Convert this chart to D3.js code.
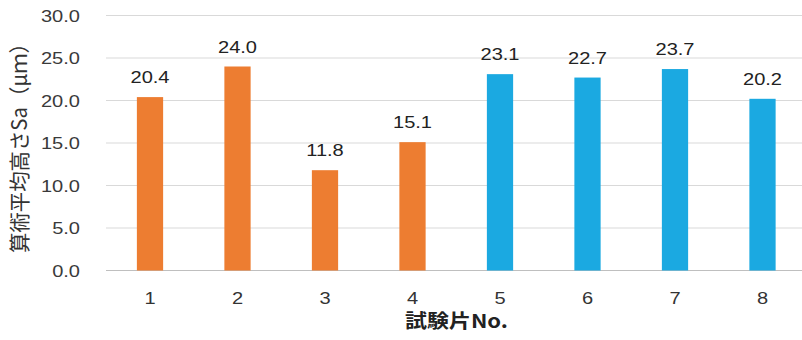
<!DOCTYPE html>
<html>
<head>
<meta charset="utf-8">
<script src="https://cdn.jsdelivr.net/npm/d3@7"></script>
<style>
body { margin: 0; background: #fff; }
svg { display: block; font-family: "Liberation Sans", Arial, sans-serif; }
</style>
</head>
<body>
<svg width="802" height="340"></svg>
<script>
var categories = ["1", "2", "3", "4", "5", "6", "7", "8"];
var values = [20.4, 24.0, 11.8, 15.1, 23.1, 22.7, 23.7, 20.2];
var groups = ["A", "A", "A", "A", "B", "B", "B", "B"];
var yTicks = [0, 5, 10, 15, 20, 25, 30];

var svg = d3.select("svg");
var colors = d3.scaleOrdinal().domain(["A", "B"]).range(["#ED7D31", "#1BA9E1"]);

var x = d3.scaleBand()
    .domain(categories)
    .range([106.25, 806.25])
    .paddingInner(0.7)
    .paddingOuter(0.35);

var y = d3.scaleLinear().domain([0, 30]).range([270.5, 15.5]);

// gridlines
svg.append("g")
    .attr("class", "grid")
    .selectAll("line")
    .data(yTicks)
    .enter().append("line")
    .attr("x1", 106)
    .attr("x2", 802)
    .attr("y1", function(d) { return y(d); })
    .attr("y2", function(d) { return y(d); })
    .attr("stroke", function(d) { return d == 0 ? "#bfbfbf" : "#d9d9d9"; })
    .attr("stroke-width", 1.2);

// y tick labels (stretched a bit like the original)
svg.append("g")
    .selectAll("text")
    .data(yTicks)
    .enter().append("text")
    .attr("transform", function(d) { return "translate(80," + (y(d) + 6) + ") scale(1.18,1)"; })
    .attr("text-anchor", "end")
    .attr("font-size", 17)
    .attr("fill", "#3a3a3a")
    .text(function(d) { return d3.format(".1f")(d); });

// bars
svg.append("g")
    .selectAll("rect")
    .data(values)
    .enter().append("rect")
    .attr("x", function(d, i) { return x(categories[i]); })
    .attr("width", x.bandwidth())
    .attr("y", function(d) { return y(d); })
    .attr("height", function(d) { return y(0) - y(d); })
    .attr("fill", function(d, i) { return colors(groups[i]); });

// value labels
svg.append("g")
    .selectAll("text")
    .data(values)
    .enter().append("text")
    .attr("transform", function(d, i) {
        return "translate(" + (x(categories[i]) + x.bandwidth() / 2) + "," + (y(d) - 14) + ") scale(1.18,1)";
    })
    .attr("text-anchor", "middle")
    .attr("font-size", 17)
    .attr("fill", "#222")
    .text(function(d) { return d3.format(".1f")(d); });

// x tick labels
svg.append("g")
    .selectAll("text")
    .data(categories)
    .enter().append("text")
    .attr("transform", function(d) { return "translate(" + (x(d) + x.bandwidth() / 2) + ",304) scale(1.18,1)"; })
    .attr("text-anchor", "middle")
    .attr("font-size", 17)
    .attr("fill", "#333")
    .text(function(d) { return d; });

// axis titles
svg.append("text")
    .attr("x", 405)
    .attr("y", 328)
    .attr("font-family", "'Noto Sans CJK JP', sans-serif")
    .attr("font-weight", "bold")
    .attr("font-size", 19)
    .attr("textLength", 103)
    .attr("lengthAdjust", "spacingAndGlyphs")
    .attr("fill", "#222")
    .text("試験片No.");

svg.append("text")
    .attr("transform", "translate(27,253) rotate(-90)")
    .attr("font-family", "'Noto Sans CJK JP', sans-serif")
    .attr("font-size", 21)
    .attr("textLength", 220)
    .attr("lengthAdjust", "spacingAndGlyphs")
    .attr("fill", "#333")
    .text("算術平均高さSa（μｍ）");
</script>
</body>
</html>
